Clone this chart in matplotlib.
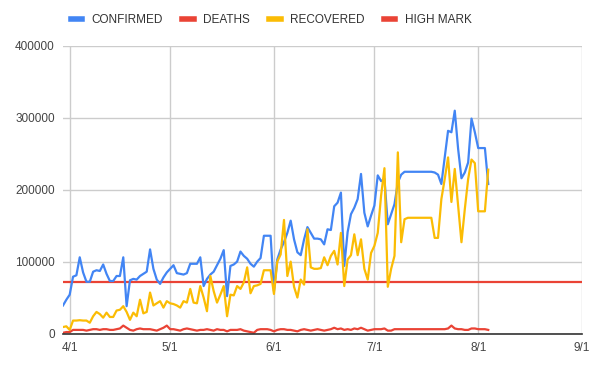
import numpy as np
import pandas as pd
import matplotlib
matplotlib.use("Agg")
from matplotlib import pyplot as plt

# daily values (in thousands), starting 3/30
confirmed = [39, 47, 54, 79, 81, 106, 85, 72, 72, 86, 88, 87, 96, 83, 73, 73, 80, 80, 106, 38,
             74, 76, 75, 80, 83, 86, 117, 90, 75, 69, 78, 85, 90, 95, 84, 83, 82, 84,
             97, 97, 97, 106, 66, 76, 82, 86, 95, 104, 116, 52, 94, 96, 100, 114, 108, 104, 97, 93, 100, 105,
             136, 136, 136, 59, 103, 117, 127, 140, 157, 131, 113, 109, 131, 148, 140, 132, 132, 131, 124,
             145, 144, 177, 182, 196, 94, 141, 166, 175, 187, 222, 168, 149, 164, 178, 220, 212, 215, 152, 166,
             180, 210, 221, 225, 225, 225, 225, 225, 225, 225, 225, 225, 224, 221, 208, 245, 282, 280, 310,
             257, 216, 224, 238, 299, 280, 258, 258, 258, 208]
recovered = [9, 10, 5, 18, 18, 18.5, 18, 18, 15, 24, 30, 27, 22, 29, 23, 23, 32, 33, 38, 30,
             19, 29, 24, 47, 28, 30, 57, 39, 42, 45, 36, 45, 42, 41, 39, 36, 45, 43,
             62, 43, 42, 66, 50, 31, 80, 59, 43, 54, 66, 24, 54, 53, 66, 62, 71, 92, 56, 66, 67, 69,
             88, 88, 88, 55, 100, 110, 158, 80, 100, 65, 50, 75, 68, 145, 92, 90, 90, 91, 106,
             95, 108, 115, 96, 140, 66, 103, 109, 138, 109, 131, 90, 75, 112, 122, 140, 192, 230, 65, 90,
             108, 252, 127, 159, 161, 161, 161, 161, 161, 161, 161, 161, 133, 133, 187, 215, 245, 183, 229,
             178, 127, 173, 215, 242, 237, 170, 170, 170, 228]
deaths = [1, 2, 2, 5, 5, 5, 5, 4, 5, 6, 6, 5, 6, 6, 5, 5, 6, 7, 11, 8,
          5, 4, 6, 7, 6, 6, 6, 5, 4, 6, 8, 11, 6, 6, 5, 4, 6, 7,
          6, 5, 4, 5, 5, 6, 5, 4, 6, 5, 5, 3, 5, 5, 5, 6, 4, 3, 2, 1, 5, 6,
          6, 6, 5, 3, 5, 6, 6, 5, 5, 4, 3, 5, 6, 5, 4, 5, 6, 5, 4,
          5, 6, 8, 6, 7, 5, 6, 5, 7, 6, 8, 6, 4, 5, 6, 6, 6, 7, 4, 4,
          6, 6, 6, 6, 6, 6, 6, 6, 6, 6, 6, 6, 6, 6, 6, 6, 7, 11, 7,
          6, 6, 5, 5, 7, 7, 6, 6, 6, 5]
high_mark = 71000

tick_dates = ["2020-04-01", "2020-05-01", "2020-06-01", "2020-07-01", "2020-08-01", "2020-09-01"]
tick_labels = ["4/1", "5/1", "6/1", "7/1", "8/1", "9/1"]
y_ticks = [0, 100000, 200000, 300000, 400000]

dates = pd.date_range("2020-03-30", periods=len(confirmed))

plt.rcParams["font.family"] = ["Liberation Sans", "DejaVu Sans"]

fig = plt.figure(figsize=(5.97, 3.67), dpi=100)
ax = fig.add_axes([63 / 597, 1 - 333.5 / 367, (582 - 63) / 597, (333.5 - 46) / 367])

blue, red, yellow = "#4285F4", "#EA4335", "#FBBC04"
lw = 1.6
ax.plot(dates, np.array(confirmed) * 1000, color=blue, lw=lw, label="CONFIRMED", zorder=3)
ax.plot(dates, np.array(deaths) * 1000, color=red, lw=lw, label="DEATHS", zorder=3)
ax.plot(dates, np.array(recovered) * 1000, color=yellow, lw=lw, label="RECOVERED", zorder=3)
ax.axhline(high_mark, color=red, lw=lw, label="HIGH MARK", zorder=2)

ax.set_xlim(dates[0], pd.Timestamp(tick_dates[-1]))
ax.set_ylim(0, 400000)
ax.set_xticks(pd.to_datetime(tick_dates))
ax.set_xticklabels(tick_labels)
ax.set_yticks(y_ticks)
ax.set_yticklabels([str(v) for v in y_ticks])

ax.grid(True, color="#cccccc", lw=1)
for s in ["top", "right", "left"]:
    ax.spines[s].set_visible(False)
ax.spines["bottom"].set_color("#333333")
ax.spines["bottom"].set_linewidth(1.2)
ax.spines["bottom"].set_zorder(4)
ax.tick_params(length=0, labelsize=8.5, colors="#444444")
ax.tick_params(axis="x", pad=6)
ax.tick_params(axis="y", pad=6)

fig.legend(loc="center left", bbox_to_anchor=(60 / 597, 1 - 20 / 367), ncol=4, frameon=False,
           fontsize=8.5, handlelength=1.0, handletextpad=0.8, columnspacing=1.6,
           labelcolor="#333333")
leg = fig.legends[0]
for h in leg.legend_handles:
    h.set_linewidth(4)

fig.savefig("out.png", dpi=100)
